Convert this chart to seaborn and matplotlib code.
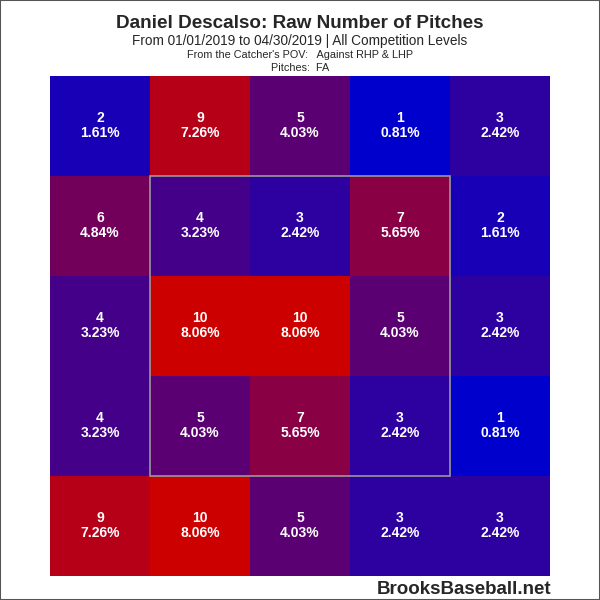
import numpy as np
import matplotlib
matplotlib.use("Agg")
import matplotlib.pyplot as plt
from matplotlib.colors import LinearSegmentedColormap
from matplotlib.patches import Rectangle
import seaborn as sns

# ── Data (catcher's POV, top row first) ────────────────────────────────────────
row1 = [2, 9, 5, 1, 3]
row2 = [6, 4, 3, 7, 2]
row3 = [4, 10, 10, 5, 3]
row4 = [4, 5, 7, 3, 1]
row5 = [9, 10, 5, 3, 3]

counts = np.array([row1, row2, row3, row4, row5])
total = counts.sum()

# ── Plot ───────────────────────────────────────────────────────────────────────
sns.set_style("white")
plt.rcParams["font.family"] = ["Liberation Sans", "DejaVu Sans"]

cmap = LinearSegmentedColormap.from_list("brooks", ["#0000CD", "#CD0000"])

fig = plt.figure(figsize=(6, 6), dpi=100)
ax = fig.add_axes([50 / 600, 24 / 600, 500 / 600, 500 / 600])

sns.heatmap(
    counts, annot=False, cmap=cmap, vmin=counts.min(), vmax=counts.max(),
    cbar=False, ax=ax, xticklabels=False, yticklabels=False,
)
txt = {"color": "white", "fontsize": 10, "fontweight": "bold",
       "ha": "center", "va": "center"}
for i, row in enumerate(counts):
    for j, c in enumerate(row):
        ax.text(j + 0.5, i + 0.42, str(c), **txt)
        ax.text(j + 0.5, i + 0.57, f"{c / total * 100:.2f}%", **txt)

ax.add_patch(Rectangle((1, 1), 3, 3, fill=False, edgecolor="#999999", lw=1.2))

fig.text(0.5, 1 - 23 / 600, "Daniel Descalso: Raw Number of Pitches",
         ha="center", va="center", fontsize=13.6, fontweight="bold")
fig.text(0.5, 1 - 41 / 600, "From 01/01/2019 to 04/30/2019 | All Competition Levels",
         ha="center", va="center", fontsize=9.8)
fig.text(0.5, 1 - 55 / 600, "From the Catcher's POV:   Against RHP & LHP",
         ha="center", va="center", fontsize=7.8)
fig.text(0.5, 1 - 68 / 600, "Pitches:  FA", ha="center", va="center", fontsize=7.8)
fig.text(551 / 600, 1 - 589 / 600, "BrooksBaseball.net",
         ha="right", va="center", fontsize=13.5, fontweight="bold")

fig.patches.append(Rectangle((0, 0), 1, 1, transform=fig.transFigure, fill=False,
                             edgecolor="#555555", lw=1.5))

plt.savefig("out.png", dpi=100)
plt.close()
